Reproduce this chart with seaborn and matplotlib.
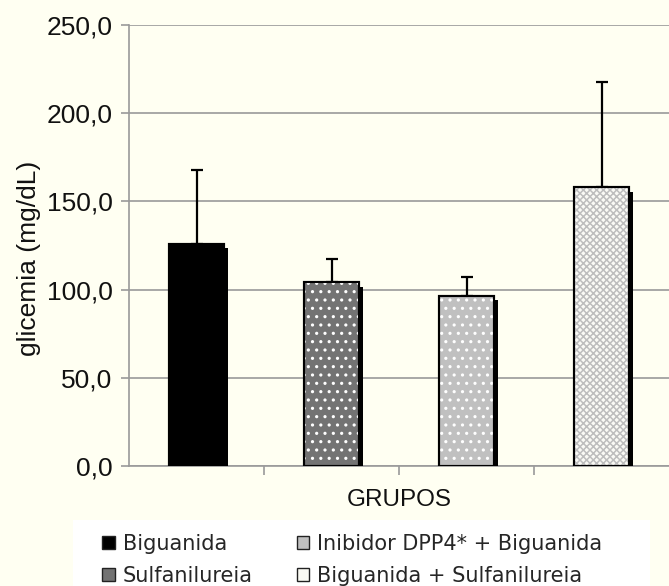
import matplotlib
matplotlib.use("Agg")
import matplotlib.pyplot as plt
import matplotlib.patheffects as pe
from matplotlib.patches import Patch, Rectangle
import seaborn as sns

# dados
grupos = ['Biguanida', 'Sulfanilureia', 'Inibidor DPP4* + Biguanida', 'Biguanida + Sulfanilureia']
media = [125.8, 104.1, 96.5, 158.0]
dp = [42.0, 13.1, 10.6, 59.9]
cores = ['#000000', '#737373', '#c0c0c0', '#fbfbf4']
hachuras = [None, '..', '..', 'xxxxx']
cor_hachura = [None, 'white', 'white', '#bdbdbd']
yticks = [0, 50, 100, 150, 200, 250]

bg = '#fffff2'
sns.set_theme(style="white")
plt.rcParams['font.family'] = ['Liberation Sans', 'DejaVu Sans']
plt.rcParams['hatch.linewidth'] = 1.1

fig = plt.figure(figsize=(6.69, 5.86), dpi=100, facecolor=bg)
ax = fig.add_axes([0.193, 0.205, 0.807, 0.752], facecolor=bg)

sns.barplot(x=grupos, y=media, hue=grupos, palette=cores, legend=False,
            width=0.41, edgecolor='black', linewidth=1.5, errorbar=None, ax=ax, zorder=3)

for p in ax.patches:
    p.set_path_effects([pe.SimplePatchShadow(offset=(3, -3), shadow_rgbFace='black', alpha=1), pe.Normal()])

# padrões por cima das barras
for i in range(len(grupos)):
    if hachuras[i]:
        ax.bar(i, media[i], width=0.41, fill=False, hatch=hachuras[i],
               edgecolor=cor_hachura[i], linewidth=0, zorder=4)
ax.bar(range(len(grupos)), media, width=0.41, fill=False, edgecolor='black', linewidth=1.5, zorder=5)

ax.errorbar(range(len(grupos)), media, yerr=[[0] * len(dp), dp], fmt='none',
            ecolor='black', elinewidth=1.6, capsize=4.5, capthick=1.6, zorder=2)

ax.set_ylim(0, 250)
ax.set_xlim(-0.5, 3.5)
ax.set_yticks(yticks)
ax.set_yticklabels([f"{v:.1f}".replace('.', ',') for v in yticks], fontsize=19, color='#111111')
ax.yaxis.grid(True, color='#9a9a9a', linewidth=1.2, zorder=0)
ax.set_axisbelow(True)

ax.set_xticks([0.5, 1.5, 2.5])
ax.set_xticklabels([])
ax.tick_params(axis='x', direction='out', length=6.5, width=1.2, color='#9a9a9a', bottom=True)
ax.tick_params(axis='y', direction='out', length=6, width=1.2, color='#9a9a9a', left=True, pad=6)

for s in ['top', 'right']:
    ax.spines[s].set_visible(False)
for s in ['left', 'bottom']:
    ax.spines[s].set_color('#9a9a9a')
    ax.spines[s].set_linewidth(1.2)

ax.set_ylabel('glicemia (mg/dL)', fontsize=19, color='#111111')
ax.yaxis.set_label_coords(-0.163, 0.47)
ax.set_xlabel('GRUPOS', fontsize=17.5, color='#111111')
ax.xaxis.set_label_coords(0.5, -0.053)

# caixa branca da legenda
fig.patches.append(Rectangle((73 / 669, 0), (650 - 73) / 669, 66 / 586, transform=fig.transFigure,
                             facecolor='white', edgecolor='none', zorder=0))

handles = [Patch(facecolor=c, edgecolor='#222222', linewidth=1.0) for c in cores]
leg = fig.legend(handles, grupos, ncol=2, loc='upper left', bbox_to_anchor=(0.1525, 0.089),
                 prop={'family': 'DejaVu Sans', 'size': 15}, frameon=False,
                 handlelength=0.6, handleheight=0.6, handletextpad=0.4, columnspacing=2.1,
                 labelspacing=0.58, borderpad=0, borderaxespad=0)

fig.savefig('out.png', dpi=100, facecolor=bg)
